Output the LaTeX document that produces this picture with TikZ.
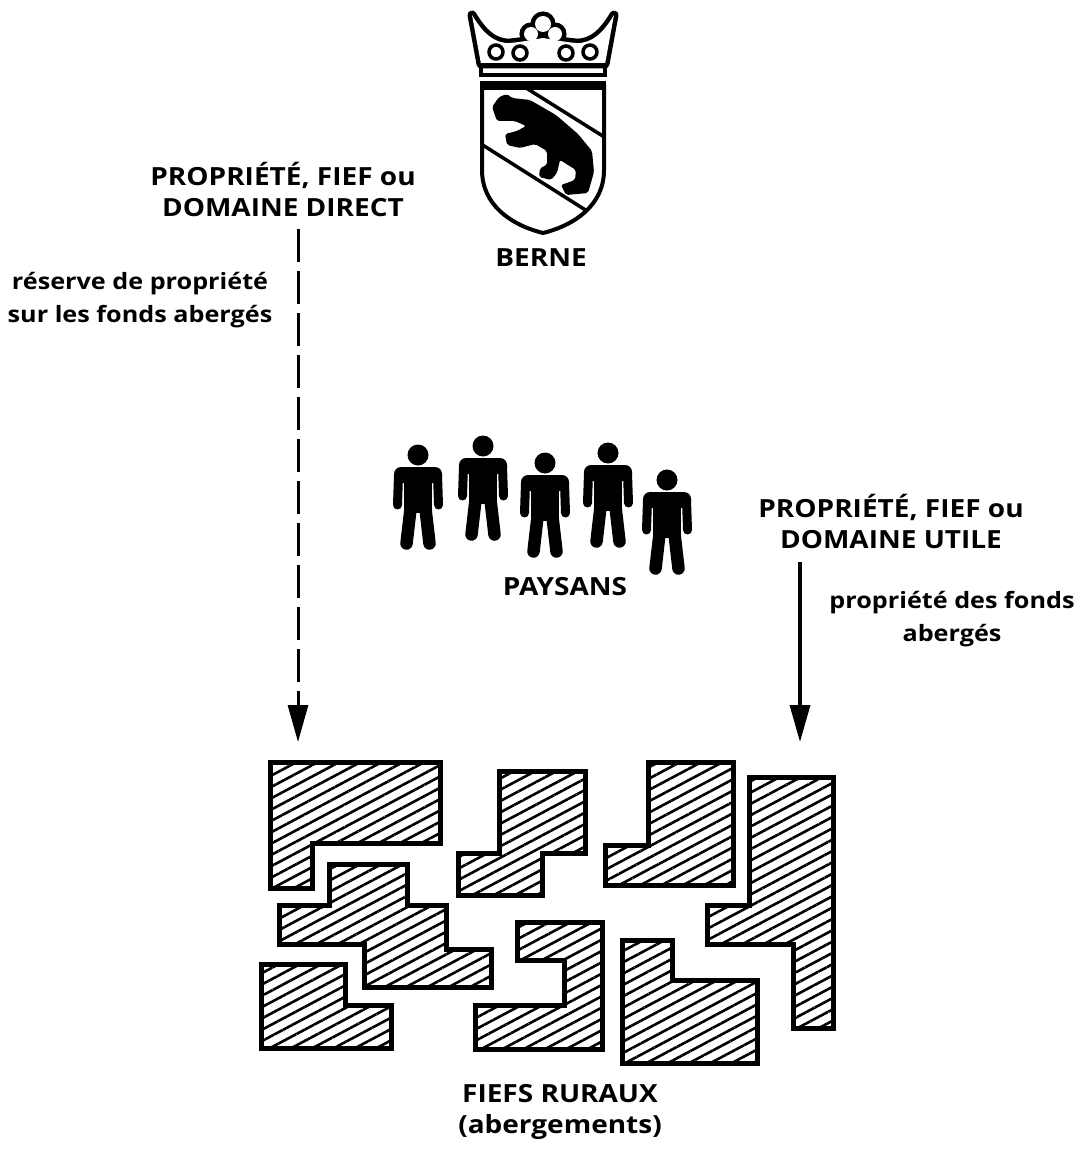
\documentclass[tikz,border=0pt]{standalone}
\usepackage{fontspec}
\setmainfont{Open Sans}[FakeStretch=1.12]
\usetikzlibrary{arrows.meta,patterns.meta}

\begin{document}
\begin{tikzpicture}[x=1pt,y=-1pt,
        titre/.style={font=\bfseries\fontsize{25}{31}\selectfont,align=center,inner sep=0pt},
        texte/.style={font=\bfseries\fontsize{22.5}{33}\selectfont,align=center,inner sep=0pt},
        fief/.style={line width=5pt,pattern={Lines[angle=28,distance=10pt,line width=2.6pt]}},
        fleche/.style={line width=3.5pt,-{Triangle[length=37pt,width=20pt]}},
        paysan/.pic={
            \fill (0,0) circle[radius=10.5pt];
            \fill[rounded corners=7pt] (-24,12) rectangle (24,28);
            \fill (-14,14) rectangle (14,58);
            \draw[line width=9pt,line cap=round] (-19.5,20)--(-20.5,50) (19.5,20)--(20.5,50);
            \draw[line width=12.5pt,line cap=round] (-7.5,54)--(-11.5,88.5) (7.5,54)--(11.5,88.5);
        }]
        \useasboundingbox[fill=white] (0,0) rectangle (1079,1169);
        % couronne
        \draw[line width=9pt,line join=round] (481,64)--(472,15) .. controls (482,32) and (494,44) .. (510,43) .. controls (522,42) and (530,40) .. (543,38) .. controls (556,40) and (564,42) .. (576,43) .. controls (592,44) and (604,32) .. (614,15)--(605,64)--cycle;
        \draw[line width=9pt] (543,24) circle[radius=8pt] (531,34) circle[radius=7pt] (555,34) circle[radius=7pt];
        \fill[white] (481,64)--(472,15) .. controls (482,32) and (494,44) .. (510,43) .. controls (522,42) and (530,40) .. (543,38) .. controls (556,40) and (564,42) .. (576,43) .. controls (592,44) and (604,32) .. (614,15)--(605,64)--cycle;
        \fill[white] (543,24) circle[radius=8pt] (531,34) circle[radius=7pt] (555,34) circle[radius=7pt];
        \foreach \Point in {(496,52), (520,53), (566,53), (590,52)}{
            \draw[line width=3.5pt] \Point circle[radius=7pt];
        }
        \draw[line width=3.5pt] (481,65) rectangle (605,75);
        % ecu
        \draw[line width=4pt] (482,86)--(482,170) .. controls (482,205) and (511,225) .. (543,233) .. controls (575,225) and (604,205) .. (604,170)--(604,86)--cycle;
        \fill (480,81) rectangle (606,90);
        \begin{scope}
            \clip (482,86)--(482,170) .. controls (482,205) and (511,225) .. (543,233) .. controls (575,225) and (604,205) .. (604,170)--(604,86)--cycle;
            \draw[line width=3.5pt] (515,81)--(625,150);
            \draw[line width=3.5pt] (470,137)--(625,235);
        \end{scope}
        \fill[rounded corners=2pt] (492,107)--(499,97)--(507,94)--(512,98)--(530,100)--(556,115)--(578,134)--(592,151)--(594,172)--(588,193)--(566,195)--(561,185)--(575,180)--(576,170)--(560,160)--(557,173)--(551,180)--(539,177)--(540,168)--(547,165)--(547,151)--(535,144)--(520,148)--(507,145)--(505,134)--(517,131)--(526,126)--(515,121)--(497,121)--cycle;
        \node[titre] (berne) at (541,258) {BERNE};
        % paysans
        \foreach \Point in {(418,455), (483,446), (545,463), (608,453), (667,480)}{
            \pic at \Point {paysan};
        }
        \node[titre] (paysans) at (565,587) {PAYSANS};
        % textes
        \node[titre] (direct) at (283,189) {PROPRIÉTÉ, FIEF ou\\DOMAINE DIRECT};
        \node[texte] (reserve) at (140,300) {réserve de propriété\\sur les fonds abergés};
        \node[titre] (utile) at (891,521) {PROPRIÉTÉ, FIEF ou\\DOMAINE UTILE};
        \node[texte] (propriete) at (952,619) {propriété des fonds\\abergés};
        \node[titre] (fiefs) at (560,1112) {FIEFS RURAUX\\(abergements)};
        % fleches
        \coordinate (d1) at (298,229);
        \coordinate (d2) at (298,742);
        \coordinate (u1) at (800,562);
        \coordinate (u2) at (800,742);
        \draw[fleche,line width=3pt,dash pattern=on 33pt off 9pt] (d1)--(d2);
        \draw[fleche] (u1)--(u2);
        % fiefs
        \draw[fief] (270.5,762.5)--(440.5,762.5)--(440.5,843.5)--(312.5,843.5)--(312.5,888.5)--(270.5,888.5)--cycle;
        \draw[fief] (499.5,771.5)--(585.5,771.5)--(585.5,853.5)--(542.5,853.5)--(542.5,895.5)--(458.5,895.5)--(458.5,853.5)--(499.5,853.5)--cycle;
        \draw[fief] (329.5,864.5)--(407.5,864.5)--(407.5,905.5)--(446.5,905.5)--(446.5,949.5)--(491.5,949.5)--(491.5,987.5)--(364.5,987.5)--(364.5,944.5)--(279.5,944.5)--(279.5,905.5)--(329.5,905.5)--cycle;
        \draw[fief] (261.5,964.5)--(345.5,964.5)--(345.5,1005.5)--(391.5,1005.5)--(391.5,1048.5)--(261.5,1048.5)--cycle;
        \draw[fief] (517.5,922.5)--(602.5,922.5)--(602.5,1049.5)--(475.5,1049.5)--(475.5,1005.5)--(564.5,1005.5)--(564.5,960.5)--(517.5,960.5)--cycle;
        \draw[fief] (648.5,762.5)--(733.5,762.5)--(733.5,885.5)--(605.5,885.5)--(605.5,845.5)--(648.5,845.5)--cycle;
        \draw[fief] (749.5,777.5)--(833.5,777.5)--(833.5,1028.5)--(793.5,1028.5)--(793.5,944.5)--(707.5,944.5)--(707.5,905.5)--(749.5,905.5)--cycle;
        \draw[fief] (622.5,940.5)--(672.5,940.5)--(672.5,980.5)--(757.5,980.5)--(757.5,1063.5)--(622.5,1063.5)--cycle;
\end{tikzpicture}
\end{document}
